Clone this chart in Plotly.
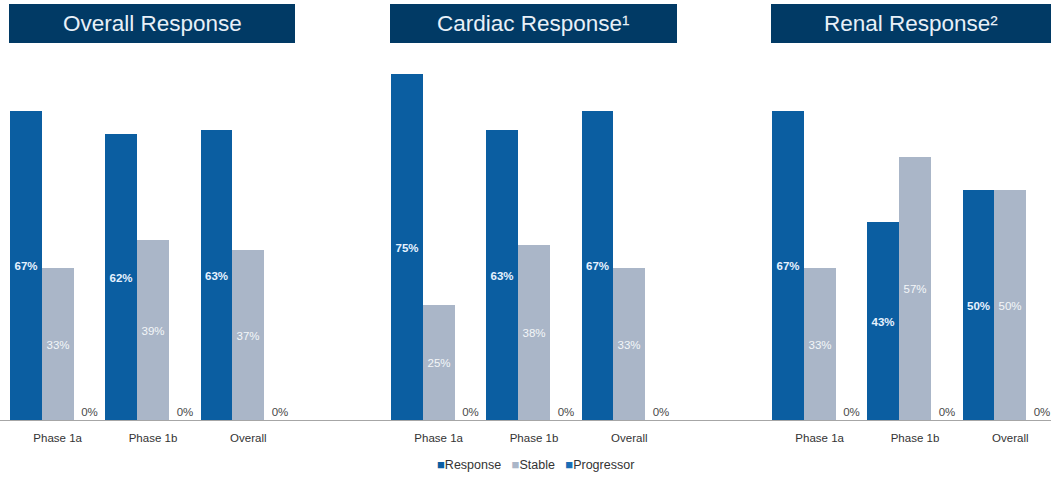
import plotly.graph_objects as go

# Response rates by study phase, in percent
phases = ["Phase 1a", "Phase 1b", "Overall"]
panel_titles = ["Overall Response", "Cardiac Response¹", "Renal Response²"]
series_names = ["Response", "Stable", "Progressor"]

overall_response = [67, 62, 63]
overall_stable = [33, 39, 37]
overall_progressor = [0, 0, 0]

cardiac_response = [75, 63, 67]
cardiac_stable = [25, 38, 33]
cardiac_progressor = [0, 0, 0]

renal_response = [67, 43, 50]
renal_stable = [33, 57, 50]
renal_progressor = [0, 0, 0]

panels = [
    (overall_response, overall_stable, overall_progressor),
    (cardiac_response, cardiac_stable, cardiac_progressor),
    (renal_response, renal_stable, renal_progressor),
]

W, H = 1051, 477
colors = ["#0b5ea1", "#aab6c8", "#1a6db5"]
label_colors = ["#e6f2ff", "#f4f6f9", "#4a4a4a"]
FONT = "Liberation Sans, Arial, sans-serif"

# panel horizontal extents in pixels
x_px = [(10, 296), (391, 677), (772, 1051)]
x_ranges = [[-0.5, 2.5], [-0.5, 2.5], [-0.5, 2.5 - 7 / 95.3]]

y_bottom_px = 421
y_top_px = 51.4
y_domain = [(H - y_bottom_px) / H, (H - y_top_px) / H]

fig = go.Figure()

for i, series in enumerate(panels):
    ax = "" if i == 0 else str(i + 1)
    for j, vals in enumerate(series):
        fig.add_trace(go.Bar(
            x=phases,
            y=vals,
            name=series_names[j],
            marker=dict(color=colors[j], line=dict(width=0)),
            text=[f"{v}%" for v in vals],
            textposition="outside" if j == 2 else "inside",
            insidetextanchor="middle",
            textfont=dict(family=FONT, size=11.5, color=label_colors[j],
                          weight="bold" if j == 0 else "normal"),
            cliponaxis=False,
            showlegend=False,
            xaxis="x" + ax,
            yaxis="y" + ax,
        ))
    x0, x1 = x_px[i]
    fig.layout["xaxis" + ax] = dict(
        domain=[x0 / W, x1 / W],
        range=x_ranges[i],
        showline=False,
        showgrid=False,
        zeroline=False,
        ticks="",
        ticklabelstandoff=8,
        tickfont=dict(family=FONT, size=11.5, color="#333333"),
        anchor="y" + ax,
    )
    fig.layout["yaxis" + ax] = dict(
        domain=y_domain,
        range=[0, 80],
        visible=False,
        anchor="x" + ax,
    )

shapes = []
annotations = []

# shared baseline running across all panels
shapes.append(dict(
    type="line", xref="paper", yref="y", x0=0, x1=1, y0=0, y1=0,
    line=dict(color="#a6a6a6", width=2), layer="above",
))

# panel title banners
box_px = [(9, 295), (390, 677), (771, 1051)]
for (bx0, bx1), title in zip(box_px, panel_titles):
    shapes.append(dict(
        type="rect", xref="paper", yref="paper",
        x0=bx0 / W, x1=bx1 / W, y0=(H - 43) / H, y1=(H - 4) / H,
        fillcolor="#013a65", line=dict(width=0), layer="below",
    ))
    annotations.append(dict(
        xref="paper", yref="paper",
        x=(bx0 + bx1) / 2 / W, y=(H - 23.5) / H,
        text=title, showarrow=False, xanchor="center", yanchor="middle",
        font=dict(family=FONT, size=22.5, color="#e8f0f8"),
    ))

# compact legend row
legend_text = "&nbsp;&nbsp;&nbsp;".join(
    f"<span style='color:{c};font-size:13px'>■</span>{n}"
    for c, n in zip(colors, series_names)
)
annotations.append(dict(
    xref="paper", yref="paper", x=535 / W, y=(H - 464) / H,
    text=legend_text, showarrow=False, xanchor="center", yanchor="middle",
    font=dict(family=FONT, size=12.5, color="#333333"),
))

fig.update_layout(
    width=W, height=H,
    margin=dict(l=0, r=0, t=0, b=0),
    paper_bgcolor="white",
    plot_bgcolor="white",
    barmode="group",
    bargap=0,
    bargroupgap=0,
    uniformtext=dict(minsize=11, mode="show"),
    shapes=shapes,
    annotations=annotations,
    showlegend=False,
)

fig.write_html("out.html")
